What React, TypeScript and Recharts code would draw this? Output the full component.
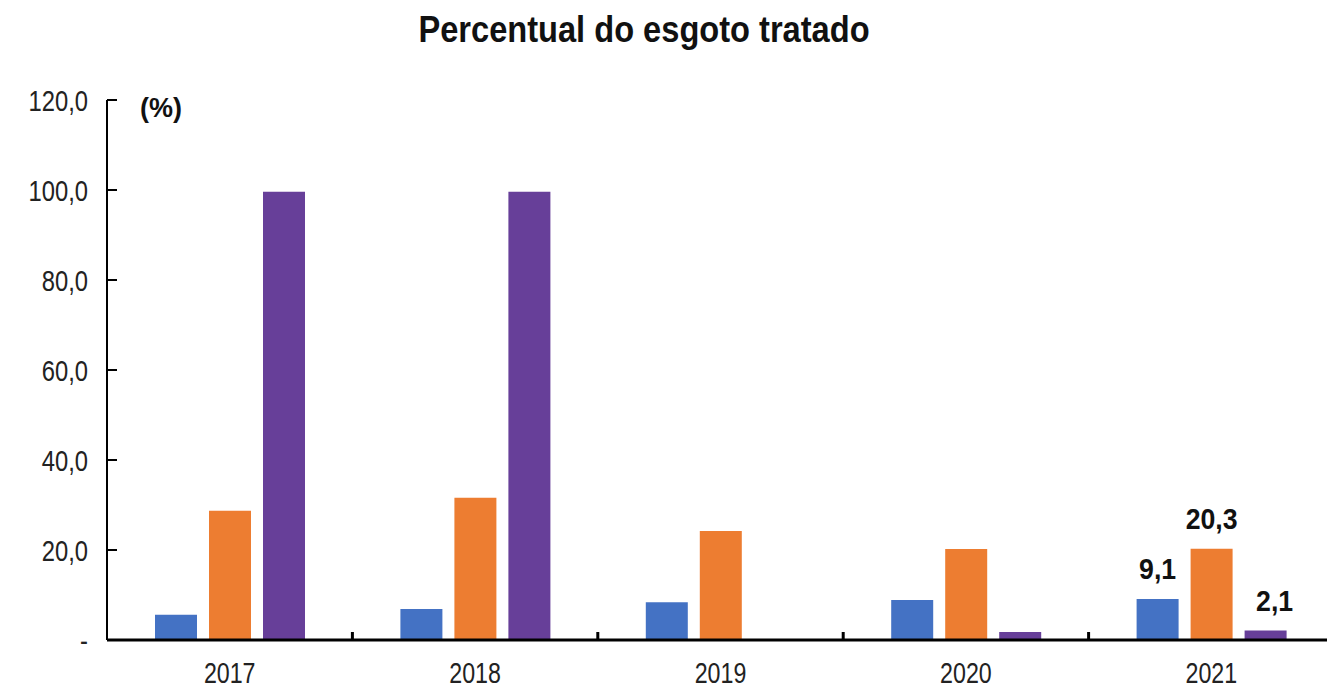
import { Bar, BarChart, LabelList, XAxis, YAxis } from 'recharts';

const years = ['2017', '2018', '2019', '2020', '2021'];
const azul = [5.6, 6.9, 8.4, 8.9, 9.1];
const laranja = [28.7, 31.6, 24.2, 20.2, 20.3];
const roxo = [99.6, 99.6, 0, 1.8, 2.1];
const yTicks = [0, 20, 40, 60, 80, 100, 120];
// only the last year carries value labels
const labelYears = ['2021'];

const PAGE_W = 1327;
const CHART_W = 1334; // plot runs slightly past the right edge, as in the original
const CHART_H = 689;
const Y_W = 107;
const X_H = 30;
const MARGIN = { top: 100, right: 0, bottom: 19, left: 0 };
const BAND = (CHART_W - Y_W - MARGIN.right - MARGIN.left) / years.length;
const FONT = 'Arial, "Liberation Sans", sans-serif';

const data = years.map((year, i) => {
  const show = labelYears.includes(year);
  return {
    year,
    azul: azul[i],
    laranja: laranja[i],
    roxo: roxo[i],
    rotAzul: show ? azul[i] : null,
    rotLaranja: show ? laranja[i] : null,
    rotRoxo: show ? roxo[i] : null,
  };
});

const fmt = (v: number) => (v === 0 ? '-' : v.toFixed(1).replace('.', ','));

const YTick = (props: any) => {
  const { x, y, payload } = props;
  return (
    <g>
      <text
        transform={`translate(${x},${y + 10.5}) scale(0.82,1)`}
        textAnchor='end'
        fontSize={29}
        fill='#222'
        fontFamily={FONT}
      >
        {fmt(payload.value)}
      </text>
      <line x1={x + 19} x2={x + 29} y1={y} y2={y} stroke='#000' strokeWidth={2} />
    </g>
  );
};

const XTick = (props: any) => {
  const { x, y, payload, index } = props;
  return (
    <g>
      <text
        transform={`translate(${x},${y + 33}) scale(0.8,1)`}
        textAnchor='middle'
        fontSize={29}
        fill='#222'
        fontFamily={FONT}
      >
        {payload.value}
      </text>
      {index < years.length - 1 && (
        <line x1={x + BAND / 2} x2={x + BAND / 2} y1={y - 10} y2={y - 18} stroke='#000' strokeWidth={3} />
      )}
    </g>
  );
};

const makeLabel = (dx: number) => (props: any) => {
  const { x, y, width, value } = props;
  if (value === null || value === undefined) return null;
  return (
    <text
      transform={`translate(${x + width / 2 + dx},${y - 20}) scale(0.92,1)`}
      textAnchor='middle'
      fontSize={29}
      fontWeight='bold'
      fill='#111'
      fontFamily={FONT}
    >
      {fmt(Number(value))}
    </text>
  );
};

export default function App() {
  return (
    <div
      style={{
        position: 'absolute',
        left: 0,
        top: 0,
        width: PAGE_W,
        height: CHART_H,
        overflow: 'hidden',
        background: '#fff',
      }}
    >
      <svg width={PAGE_W} height={60} style={{ position: 'absolute', left: 0, top: 0 }}>
        <text
          transform='translate(644,42) scale(0.87,1)'
          textAnchor='middle'
          fontSize={37.5}
          fontWeight='bold'
          fill='#111'
          fontFamily={FONT}
        >
          Percentual do esgoto tratado
        </text>
      </svg>
      <BarChart width={CHART_W} height={CHART_H} data={data} margin={MARGIN} barGap={12}>
        <XAxis
          dataKey='year'
          height={X_H}
          tick={<XTick />}
          tickLine={false}
          tickSize={0}
          tickMargin={10}
          axisLine={{ stroke: '#000', strokeWidth: 3 }}
          interval={0}
        />
        <YAxis
          width={Y_W}
          domain={[0, 120]}
          ticks={yTicks}
          tick={<YTick />}
          tickLine={false}
          tickSize={0}
          tickMargin={19}
          axisLine={{ stroke: '#000', strokeWidth: 2 }}
          interval={0}
          label={{
            content: (p: any) => (
              <text
                x={p.viewBox.x + p.viewBox.width + 33}
                y={p.viewBox.y + 17}
                fontSize={27}
                fontWeight='bold'
                fill='#111'
                fontFamily={FONT}
              >
                (%)
              </text>
            ),
          }}
        />
        <Bar dataKey='azul' fill='#4472C4' barSize={42} isAnimationActive={false}>
          <LabelList dataKey='rotAzul' content={makeLabel(0)} />
        </Bar>
        <Bar dataKey='laranja' fill='#ED7D31' barSize={42} isAnimationActive={false}>
          <LabelList dataKey='rotLaranja' content={makeLabel(0)} />
        </Bar>
        <Bar dataKey='roxo' fill='#673F99' barSize={42} isAnimationActive={false}>
          <LabelList dataKey='rotRoxo' content={makeLabel(9)} />
        </Bar>
      </BarChart>
    </div>
  );
}
